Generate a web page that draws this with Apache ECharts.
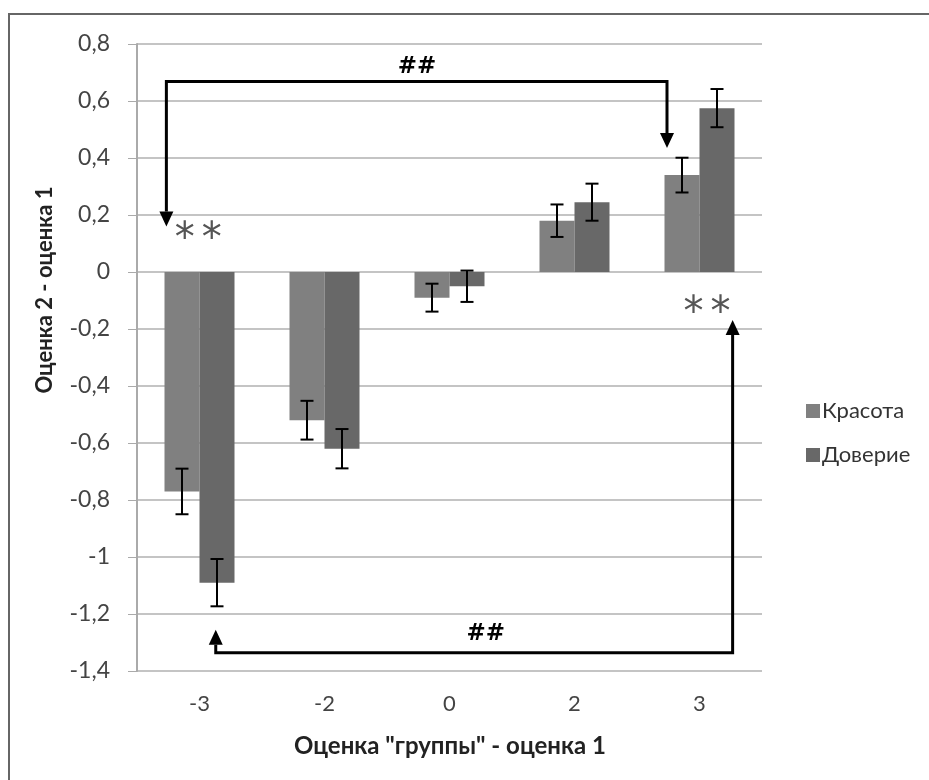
<!DOCTYPE html>
<html>
<head>
<meta charset="utf-8">
<script src="https://cdn.jsdelivr.net/npm/echarts@6/dist/echarts.min.js"></script>
<style>
  html, body { margin: 0; padding: 0; background: #fff; }
  #main { width: 929px; height: 780px; }
</style>
</head>
<body>
<div id="main"></div>
<script>
// данные
var categories = ['-3', '-2', '0', '2', '3'];
var krasota = [-0.77, -0.52, -0.09, 0.18, 0.34];
var doverie = [-1.09, -0.62, -0.05, 0.245, 0.575];
var krasotaErr = [0.08, 0.068, 0.049, 0.057, 0.061];
var doverieErr = [0.083, 0.069, 0.055, 0.065, 0.067];
var seriesNames = ['Красота', 'Доверие'];

var FONT = 'Lato, "Open Sans", sans-serif';
var BAR_SHARE = 0.28; // доля ширины категории на один столбик

var chart = echarts.init(document.getElementById('main'));

function errorItem(side, errs) {
  return function(params, api) {
    var i = api.value(0);
    var v = api.value(1);
    var e = errs[i];
    var band = api.size([1, 0])[0];
    var dx = side * band * BAR_SHARE / 2;
    var top = api.coord([i, v + e]);
    var bot = api.coord([i, v - e]);
    var x = top[0] + dx;
    var cap = 6.5;
    var st = { stroke: '#000', lineWidth: 2 };
    return {
      type: 'group',
      children: [
        { type: 'line', shape: { x1: x, y1: top[1], x2: x, y2: bot[1] }, style: st },
        { type: 'line', shape: { x1: x - cap, y1: top[1], x2: x + cap, y2: top[1] }, style: st },
        { type: 'line', shape: { x1: x - cap, y1: bot[1], x2: x + cap, y2: bot[1] }, style: st }
      ]
    };
  };
}

var option = {
  animation: false,
  textStyle: { fontFamily: FONT },
  grid: { left: 137, right: 167, top: 44, bottom: 109, containLabel: false },
  legend: {
    orient: 'vertical',
    left: 801,
    top: 395,
    itemWidth: 14,
    itemHeight: 14,
    itemGap: 22,
    icon: 'rect',
    data: seriesNames,
    textStyle: { fontSize: 22, color: '#333', padding: [0, 0, 0, -3], fontFamily: FONT }
  },
  xAxis: {
    type: 'category',
    data: categories,
    position: 'bottom',
    axisLine: { show: false },
    axisTick: { show: false },
    axisLabel: { fontSize: 22, color: '#444', margin: 22, fontFamily: FONT }
  },
  yAxis: {
    type: 'value',
    min: -1.4,
    max: 0.8,
    interval: 0.2,
    axisLine: { show: true, onZero: false, lineStyle: { color: '#aaa', width: 2 } },
    axisTick: { show: true, length: 9, lineStyle: { color: '#aaa', width: 1 } },
    splitLine: { lineStyle: { color: '#c4c4c4', width: 2 } },
    axisLabel: {
      fontSize: 23,
      color: '#444',
      margin: 27,
      fontFamily: FONT,
      formatter: function(v) {
        var r = Math.round(v * 10) / 10;
        return String(r).replace('.', ',');
      }
    }
  },
  series: [
    {
      name: seriesNames[0],
      type: 'bar',
      data: krasota,
      barGap: 0,
      barCategoryGap: '44%',
      itemStyle: { color: '#808080' }
    },
    {
      name: seriesNames[1],
      type: 'bar',
      data: doverie,
      barGap: 0,
      barCategoryGap: '44%',
      itemStyle: { color: '#686868' }
    },
    {
      type: 'custom',
      renderItem: errorItem(-1, krasotaErr),
      data: krasota.map(function(v, i) { return [i, v]; }),
      z: 5,
      silent: true
    },
    {
      type: 'custom',
      renderItem: errorItem(1, doverieErr),
      data: doverie.map(function(v, i) { return [i, v]; }),
      z: 5,
      silent: true
    }
  ]
};

chart.setOption(option);

// стрелки-аннотации: [индекс категории, смещение в долях категории, значение]
var topArrow = [[0, -0.265, 0.16], [0, -0.265, 0.668], [4, -0.26, 0.668], [4, -0.26, 0.435]];
var bottomArrow = [[0, 0.13, -1.255], [0, 0.13, -1.336], [4, 0.265, -1.336], [4, 0.265, -0.168]];

function toPx(p) {
  var a = chart.convertToPixel({ gridIndex: 0 }, [p[0], p[2]]);
  var b = chart.convertToPixel({ gridIndex: 0 }, [p[0] + 1, p[2]]);
  return [a[0] + (b[0] - a[0]) * p[1], a[1]];
}

function arrowGraphics(pts) {
  var px = pts.map(toPx);
  var els = [];
  var hw = 7, hl = 15;
  function head(tip, from) {
    var dir = tip[1] > from[1] ? 1 : -1;
    return {
      type: 'polygon',
      shape: { points: [[tip[0], tip[1]], [tip[0] - hw, tip[1] - dir * hl], [tip[0] + hw, tip[1] - dir * hl]] },
      style: { fill: '#000' },
      z: 100
    };
  }
  var linePts = px.map(function(p) { return p.slice(); });
  var n = linePts.length - 1;
  linePts[0][1] -= (linePts[0][1] > linePts[1][1] ? 1 : -1) * hl;
  linePts[n][1] -= (linePts[n][1] > linePts[n - 1][1] ? 1 : -1) * hl;
  els.push({
    type: 'polyline',
    shape: { points: linePts },
    style: { stroke: '#000', lineWidth: 3, fill: null, lineJoin: 'miter' },
    z: 100
  });
  els.push(head(px[0], px[1]));
  els.push(head(px[n], px[n - 1]));
  return els;
}

// подписи значимости
var hashMarks = [[2, -0.26, 0.72], [2, 0.29, -1.27]];
var starMarks = [[0, -0.01, 0.11], [4, 0.06, -0.15]];

var markEls = [];
hashMarks.forEach(function(pt) {
  var p = toPx(pt);
  markEls.push({
    type: 'text', x: p[0], y: p[1], z: 100,
    style: { text: '##', fill: '#000', font: 'bold 23px "DejaVu Sans", sans-serif', align: 'center', verticalAlign: 'middle' }
  });
});
starMarks.forEach(function(pt) {
  var p = toPx(pt);
  [-13.5, 13.5].forEach(function(dx) {
    markEls.push({
      type: 'text', x: p[0] + dx, y: p[1], z: 100,
      style: { text: '*', fill: '#555', font: '40px "DejaVu Sans", sans-serif', align: 'center', verticalAlign: 'middle' }
    });
  });
});

var graphics = []
  .concat(arrowGraphics(topArrow))
  .concat(arrowGraphics(bottomArrow))
  .concat(markEls)
  .concat([
    {
      type: 'rect',
      shape: { x: 9, y: 14, width: 960, height: 820 },
      style: { fill: null, stroke: '#666', lineWidth: 2 },
      silent: true
    },
    {
      type: 'text',
      x: 45,
      y: 290,
      rotation: Math.PI / 2,
      style: {
        text: 'Оценка 2 - оценка 1',
        font: 'bold 22px Lato, sans-serif',
        fill: '#222',
        align: 'center',
        verticalAlign: 'middle'
      }
    },
    {
      type: 'text',
      x: 450,
      y: 746,
      style: {
        text: 'Оценка "группы" - оценка 1',
        font: 'bold 24px Lato, sans-serif',
        fill: '#222',
        align: 'center',
        verticalAlign: 'middle'
      }
    }
  ]);

chart.setOption({ graphic: graphics });
</script>
</body>
</html>
